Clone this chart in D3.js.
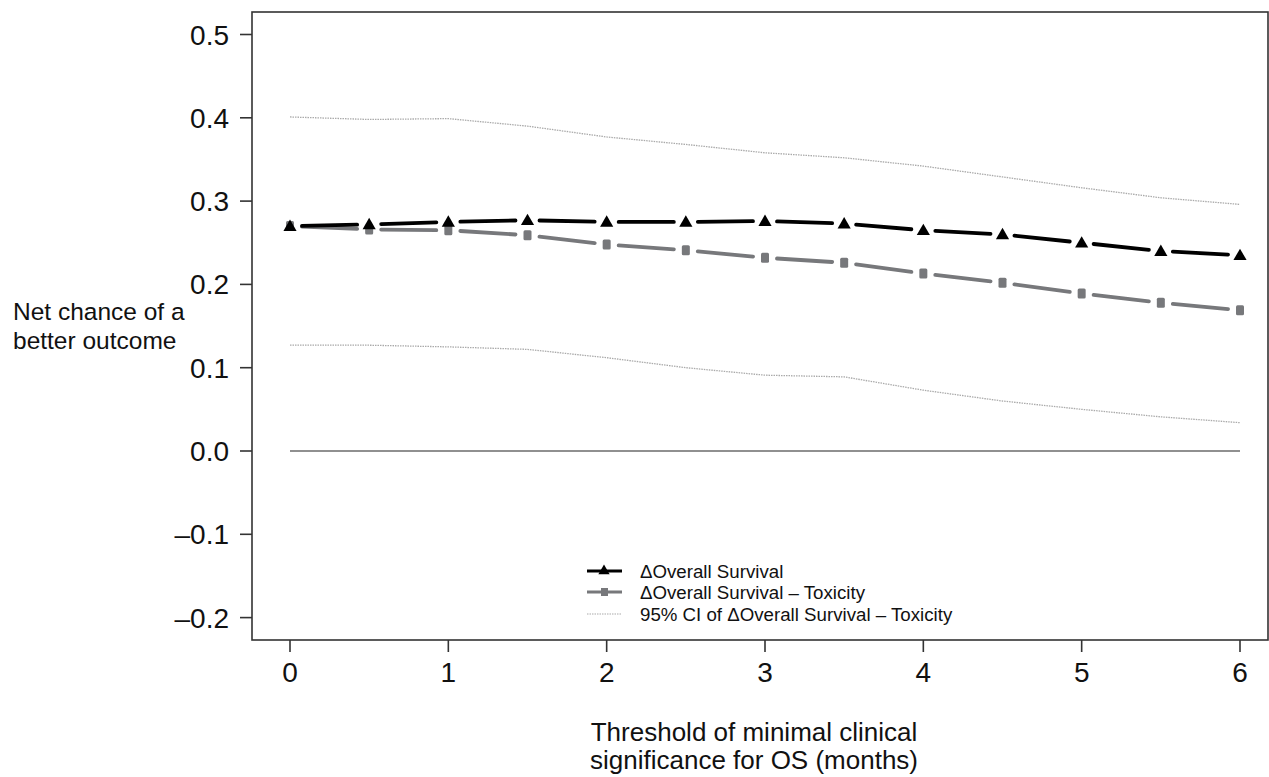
<!DOCTYPE html>
<html>
<head>
<meta charset="utf-8">
<script src="https://cdn.jsdelivr.net/npm/d3@7"></script>
<style>
  body { margin: 0; background: #fff; }
  text { font-family: "Liberation Sans", Arial, sans-serif; fill: #111; }
</style>
</head>
<body>
<script>
var thresholds = [0, 0.5, 1, 1.5, 2, 2.5, 3, 3.5, 4, 4.5, 5, 5.5, 6];
var overallSurvival = [0.270, 0.272, 0.275, 0.277, 0.275, 0.275, 0.276, 0.273, 0.265, 0.260, 0.250, 0.240, 0.235];
var survivalToxicity = [0.270, 0.266, 0.265, 0.259, 0.248, 0.241, 0.232, 0.226, 0.213, 0.202, 0.189, 0.178, 0.169];
var ciUpper = [0.401, 0.398, 0.399, 0.390, 0.377, 0.368, 0.358, 0.352, 0.342, 0.329, 0.316, 0.304, 0.296];
var ciLower = [0.127, 0.127, 0.125, 0.122, 0.112, 0.100, 0.091, 0.089, 0.073, 0.060, 0.050, 0.041, 0.034];
var xTicks = [0, 1, 2, 3, 4, 5, 6];
var yTicks = [-0.2, -0.1, 0.0, 0.1, 0.2, 0.3, 0.4, 0.5];
var legendLabels = ['\u0394Overall Survival', '\u0394Overall Survival \u2013 Toxicity', '95% CI of \u0394Overall Survival \u2013 Toxicity'];

var width = 1269, height = 777;
var box = { left: 252, top: 12, right: 1268, bottom: 640 };

var x = d3.scaleLinear().domain([0, 6]).range([290, 1240]);
var y = d3.scaleLinear().domain([0, 0.5]).range([451, 34.5]);

var svg = d3.select('body').append('svg')
  .attr('width', width)
  .attr('height', height);

// frame
svg.append('rect')
  .attr('x', box.left).attr('y', box.top)
  .attr('width', box.right - box.left).attr('height', box.bottom - box.top)
  .attr('fill', 'none').attr('stroke', '#333').attr('stroke-width', 1.6);

// y axis ticks
var yAxis = svg.append('g');
yAxis.selectAll('line').data(yTicks).enter().append('line')
  .attr('x1', box.left - 12).attr('x2', box.left)
  .attr('y1', function (d) { return y(d); }).attr('y2', function (d) { return y(d); })
  .attr('stroke', '#333').attr('stroke-width', 1.6);
yAxis.selectAll('text').data(yTicks).enter().append('text')
  .attr('x', box.left - 23)
  .attr('y', function (d) { return y(d); })
  .attr('dy', '0.36em')
  .attr('text-anchor', 'end')
  .style('font-size', '28px')
  .text(function (d) { return d < 0 ? '\u2013' + Math.abs(d).toFixed(1) : d.toFixed(1); });

// x axis ticks
var xAxis = svg.append('g');
xAxis.selectAll('line').data(xTicks).enter().append('line')
  .attr('x1', function (d) { return x(d); }).attr('x2', function (d) { return x(d); })
  .attr('y1', box.bottom).attr('y2', box.bottom + 12)
  .attr('stroke', '#333').attr('stroke-width', 1.6);
xAxis.selectAll('text').data(xTicks).enter().append('text')
  .attr('x', function (d) { return x(d); })
  .attr('y', 682)
  .attr('text-anchor', 'middle')
  .style('font-size', '28px')
  .text(function (d) { return d; });

// axis titles
svg.append('text').attr('x', 754).attr('y', 741).attr('text-anchor', 'middle')
  .style('font-size', '26px').text('Threshold of minimal clinical');
svg.append('text').attr('x', 754).attr('y', 769).attr('text-anchor', 'middle')
  .style('font-size', '26px').text('significance for OS (months)');
svg.append('text').attr('x', 13).attr('y', 320)
  .style('font-size', '24.5px').text('Net chance of a');
svg.append('text').attr('x', 13).attr('y', 349)
  .style('font-size', '24.5px').text('better outcome');

// zero line
svg.append('line')
  .attr('x1', x(0)).attr('x2', x(6))
  .attr('y1', y(0)).attr('y2', y(0))
  .attr('stroke', '#222').attr('stroke-width', 1.1);

// CI lines
var ciLine = d3.line()
  .x(function (d, i) { return x(thresholds[i]); })
  .y(function (d) { return y(d); });
[ciUpper, ciLower].forEach(function (arr) {
  svg.append('path')
    .attr('d', ciLine(arr))
    .attr('fill', 'none')
    .attr('stroke', '#aaa')
    .attr('stroke-width', 1.3)
    .attr('stroke-dasharray', '1.5,1');
});

// type "b" lines: segments with gaps around points
function drawSegments (values, color, gap) {
  var pts = values.map(function (v, i) { return [x(thresholds[i]), y(v)]; });
  for (var i = 0; i < pts.length - 1; i++) {
    var a = pts[i], b = pts[i + 1];
    var dx = b[0] - a[0], dy = b[1] - a[1], len = Math.sqrt(dx * dx + dy * dy);
    var ux = dx / len, uy = dy / len;
    svg.append('line')
      .attr('x1', a[0] + ux * gap).attr('y1', a[1] + uy * gap)
      .attr('x2', b[0] - ux * gap).attr('y2', b[1] - uy * gap)
      .attr('stroke', color).attr('stroke-width', 3.8)
      .attr('stroke-linecap', 'round');
  }
}

drawSegments(survivalToxicity, '#77787b', 12);
drawSegments(overallSurvival, '#000', 12);

svg.selectAll('rect.sq').data(survivalToxicity).enter().append('rect')
  .attr('class', 'sq')
  .attr('x', function (d, i) { return x(thresholds[i]) - 4; })
  .attr('y', function (d) { return y(d) - 5; })
  .attr('width', 8).attr('height', 10)
  .attr('rx', 1.5)
  .attr('fill', '#77787b');

var tri = d3.symbol().type(d3.symbolTriangle).size(75);
svg.selectAll('path.tri').data(overallSurvival).enter().append('path')
  .attr('class', 'tri')
  .attr('d', tri)
  .attr('transform', function (d, i) { return 'translate(' + x(thresholds[i]) + ',' + (y(d) + 1) + ')'; })
  .attr('fill', '#000');

// legend
var legend = svg.append('g');
var ly = [571, 592, 614];
legend.append('line').attr('x1', 587).attr('x2', 622).attr('y1', ly[0]).attr('y2', ly[0])
  .attr('stroke', '#000').attr('stroke-width', 3);
legend.append('path').attr('d', d3.symbol().type(d3.symbolTriangle).size(55))
  .attr('transform', 'translate(604,' + (ly[0]) + ')').attr('fill', '#000');
legend.append('line').attr('x1', 587).attr('x2', 622).attr('y1', ly[1]).attr('y2', ly[1])
  .attr('stroke', '#77787b').attr('stroke-width', 3);
legend.append('rect').attr('x', 601).attr('y', ly[1] - 4).attr('width', 7).attr('height', 8)
  .attr('fill', '#77787b');
legend.append('line').attr('x1', 587).attr('x2', 622).attr('y1', ly[2]).attr('y2', ly[2])
  .attr('stroke', '#aaa').attr('stroke-width', 1.2).attr('stroke-dasharray', '1.5,1');
legend.selectAll('text').data(legendLabels).enter().append('text')
  .attr('x', 640)
  .attr('y', function (d, i) { return ly[i]; })
  .attr('dy', '0.36em')
  .style('font-size', '18.7px')
  .text(function (d) { return d; });
</script>
</body>
</html>
